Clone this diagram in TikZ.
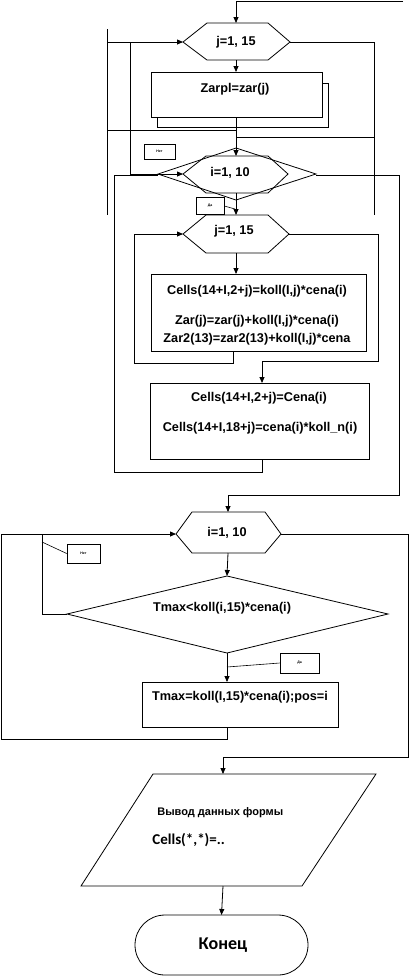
\documentclass[tikz,border=0pt]{standalone}
\usepackage{fontspec}
\setmainfont{Liberation Sans}
\newfontfamily\carl{Carlito}
\usetikzlibrary{arrows.meta}
\begin{document}
\begin{tikzpicture}[x=1pt,y=-1pt, line width=0.8pt,
  arr/.style={-{Triangle[length=6pt,width=5pt]}},
  txt/.style={font=\fontsize{12.7}{14}\selectfont\bfseries, inner sep=0pt},
  lbl/.style={draw, line width=0.6pt, font=\fontsize{3.5}{4}\selectfont\bfseries, inner sep=0pt, fill=white},
  box/.style={draw, fill=white, inner sep=0pt, outer sep=0pt},
]
\useasboundingbox (0,0) rectangle (414,978);

% ---------- shapes ----------
% hexagon j=1,15 (outer loop)
\coordinate (h1L) at (183,42); \coordinate (h1R) at (290,42);
\coordinate (h1T) at (236,23); \coordinate (h1B) at (236,60);
\draw (h1L) -- (207,23) -- (268,23) -- (h1R) -- (268,60) -- (207,60) -- cycle;

% box Zarpl with shadow
\node[box, minimum width=171, minimum height=44] (sh1) at (242.5,105) {};
\node[box, minimum width=171, minimum height=45] (b1) at (236.5,94.5) {};

% diamond + hexagon i=1,10
\coordinate (d0L) at (158,174); \coordinate (d0R) at (316,174);
\coordinate (d0T) at (236,148); \coordinate (d0B) at (236,200);
\draw (d0L) -- (d0T) -- (d0R) -- (d0B) -- cycle;
\coordinate (h2L) at (183,174); \coordinate (h2R) at (288,174);
\coordinate (h2T) at (236,156); \coordinate (h2B) at (236,193);
\draw (h2L) -- (206,156) -- (268,156) -- (h2R) -- (268,193) -- (206,193) -- cycle;

% hexagon j=1,15 (inner loop)
\coordinate (h3L) at (183,234); \coordinate (h3R) at (289,234);
\coordinate (h3T) at (236,215); \coordinate (h3B) at (236,253);
\draw (h3L) -- (206,215) -- (268,215) -- (h3R) -- (268,253) -- (206,253) -- cycle;

% boxes
\node[box, minimum width=215, minimum height=77] (b2) at (258.5,312.5) {};
\node[box, minimum width=219, minimum height=76] (b3) at (259.5,421) {};

% hexagon i=1,10 (lower)
\coordinate (h4L) at (176,534); \coordinate (h4R) at (281,534);
\coordinate (h4T) at (228,512); \coordinate (h4B) at (228,553);
\draw (h4L) -- (192,512) -- (265,512) -- (h4R) -- (265,553) -- (192,553) -- cycle;

% decision diamond
\coordinate (dL) at (67,614); \coordinate (dR) at (388,614);
\coordinate (dT) at (227,576); \coordinate (dB) at (227,653);
\draw (dL) -- (dT) -- (dR) -- (dB) -- cycle;

% box Tmax
\node[box, minimum width=196, minimum height=45] (b4) at (240,704.5) {};

% parallelogram
\coordinate (pT) at (223,774); \coordinate (pB) at (223,886);
\draw (153,774) -- (376,774) -- (302,886) -- (81,886) -- cycle;

% terminal
\node[box, minimum width=173, minimum height=60, rounded corners=30] (term) at (221.5,945) {};

% ---------- texts ----------
\node[txt] (t1) at (236,42) {j=1, 15};
\node[txt] (t2) at (235,89) {Zarpl=zar(j)};
\node[txt] (t3) at (230,173) {i=1, 10};
\node[txt] (t4) at (234,231) {j=1, 15};
\node[txt] (t5) at (257,291) {Cells(14+I,2+j)=koll(I,j)*cena(i)};
\node[txt] (t6) at (257,321) {Zar(j)=zar(j)+koll(I,j)*cena(i)};
\node[txt] (t7) at (257,339) {Zar2(13)=zar2(13)+koll(I,j)*cena};
\node[txt] (t8) at (259,398) {Cells(14+I,2+j)=Cena(i)};
\node[txt] (t9) at (260,428) {Cells(14+I,18+j)=cena(i)*koll\_n(i)};
\node[txt] (t10) at (227,533) {i=1, 10};
\node[txt] (t11) at (222,608) {Tmax<koll(i,15)*cena(i)};
\node[txt] (t12) at (240,697) {Tmax=koll(I,15)*cena(i);pos=i};
\node[font=\fontsize{11}{13}\selectfont\bfseries, inner sep=0pt, anchor=west] (t13) at (157,813) {Вывод данных формы};
\node[font=\carl\fontsize{15}{17}\selectfont\bfseries, inner sep=0pt, anchor=west] (t14) at (152,840) {Cells(*,*)=..};
\node[font=\carl\fontsize{18}{20}\selectfont\bfseries, inner sep=0pt] (t15) at (223,945) {Конец};

% ---------- labels ----------
\node[lbl, minimum width=31, minimum height=15] (n1) at (159.5,151.5) {Нет};
\node[lbl, minimum width=28, minimum height=17] (y1) at (210,206) {Да};
\node[lbl, minimum width=33, minimum height=19] (n2) at (83.5,553.5) {Нет};
\node[lbl, minimum width=39, minimum height=20] (y2) at (299.5,663) {Да};

% ---------- connectors ----------
\coordinate (c0) at (403,1); \coordinate (c1) at (236,1);
\draw[arr] (c0) -- (c1) -- (h1T);
\draw[arr] (h1B) -- (b1.north -| h1B);
\draw[arr] (236,117) -- (h2T);

% outer left lines
\coordinate (L1a) at (107,29); \coordinate (L1b) at (107,215);
\draw (L1a) -- (L1b);
\draw[arr] (107,42) -- (h1L);
\draw (107,130) -- (236,130);
\coordinate (L2a) at (130,42); \coordinate (L2b) at (130,174);
\draw (L2a) -- (L2b);
\draw[arr] (L2b) -- (h2L);

% outer right lines
\coordinate (R1a) at (374,42); \coordinate (R1b) at (374,215);
\draw (h1R) -- (R1a) -- (R1b);
\draw (236,137) -- (374,137);

% i loop right exit
\coordinate (R2a) at (399,175); \coordinate (R2b) at (399,495); \coordinate (R2c) at (228,495);
\draw[arr] (d0R |- R2a) -- (R2a) -- (R2b) -- (R2c) -- (h4T);

% i loop left return
\coordinate (L3a) at (114,175); \coordinate (L3b) at (114,472); \coordinate (L3c) at (262,472);
\draw (b3.south -| L3c) -- (L3c) -- (L3b) -- (L3a) -- (d0L |- L3a);

\draw[arr] (h2B) -- (h3T);
\draw[arr] (h3B) -- (b2.north -| h3B);

% j inner loop
\coordinate (L4a) at (134,234); \coordinate (L4b) at (134,363); \coordinate (L4c) at (233,363);
\draw[arr] (b2.south -| L4c) -- (L4c) -- (L4b) -- (L4a) -- (h3L);
\coordinate (R3a) at (378,234); \coordinate (R3b) at (378,361); \coordinate (R3c) at (262,361);
\draw[arr] (h3R) -- (R3a) -- (R3b) -- (R3c) -- (b3.north -| R3c);

% label leaders
\coordinate (y1p) at (235,209);
\draw[line width=0.6pt] (y1.east) -- (y1p);
\coordinate (n2p) at (42,542);
\draw[line width=0.6pt] (n2p) -- (n2.west);
\coordinate (y2p) at (227,667);
\draw[line width=0.6pt] (y2p) -- (y2.west);

% lower loop
\coordinate (L5a) at (1,534); \coordinate (L5b) at (1,739); \coordinate (L5c) at (227,739);
\draw[arr] (b4.south -| L5c) -- (L5c) -- (L5b) -- (L5a) -- (h4L);
\coordinate (L6a) at (42,534); \coordinate (L6b) at (42,614);
\draw (L6a) -- (L6b) -- (dL);
\draw[arr] (h4B) -- (dT);
\draw[arr] (dB) -- (b4.north -| dB);

\coordinate (R4a) at (408,534); \coordinate (R4b) at (408,757); \coordinate (R4c) at (223,757);
\draw[arr] (h4R) -- (R4a) -- (R4b) -- (R4c) -- (pT);
\draw[arr] (pB) -- (term.north);
\end{tikzpicture}
\end{document}
